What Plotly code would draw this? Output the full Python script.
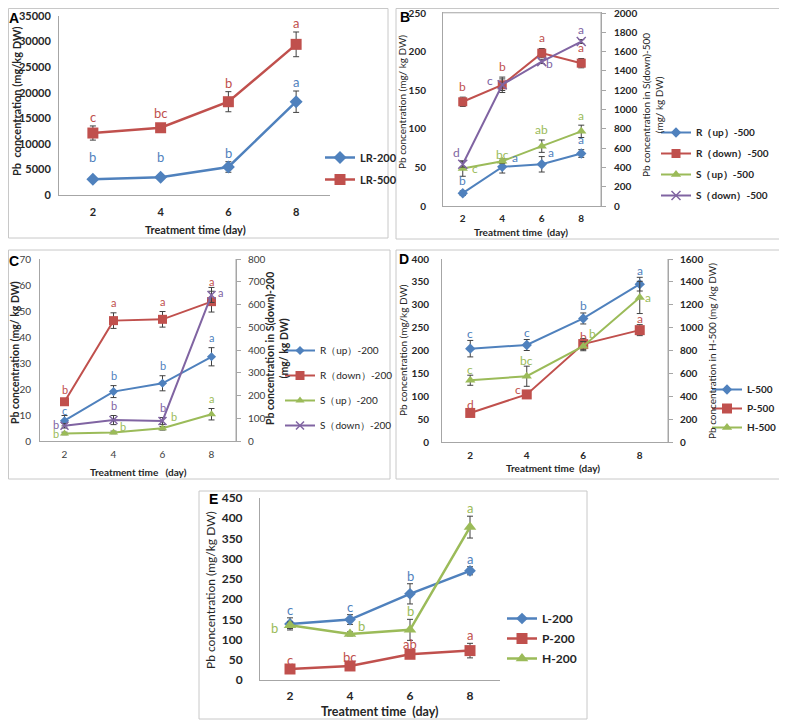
import plotly.graph_objects as go

W, H = 787, 722
OFF = 8            # the page body adds an 8 px margin; figure is sized to fit the window
FW, FH = W - OFF, H - OFF
FONT = "Lato"
days = [2, 4, 6, 8]

BLUE, RED, GREEN, PURPLE = "#4F81BD", "#C0504D", "#9BBB59", "#8064A2"
AXC = "#a6a6a6"
ERRC = "#404040"

# ---------------- data ----------------
# Panel A
A_LR200 = [3094, 3480, 5479, 18241]
A_LR200_err = [200, 200, 1030, 2095]
A_LR200_let = ["b", "b", "b", "a"]
A_LR500 = [12118, 13150, 18241, 29457]
A_LR500_err = [1385, 300, 1965, 2417]
A_LR500_let = ["c", "bc", "b", "a"]

# Panel B (S(down) on right axis)
B_Rup = [16.6, 50.7, 54, 68]
B_Rup_err = [3, 8, 10, 5]
B_Rup_let = ["b", "a", "a", "a"]
B_Rdown = [135, 157, 198, 185]
B_Rdown_err = [6, 10, 6, 6]
B_Rdown_let = ["b", "b", "a", "a"]
B_Sup = [48.5, 58, 77.5, 96.7]
B_Sup_err = [10, 3, 8, 8]
B_Sup_let = ["c", "bc", "ab", "a"]
B_Sdown = [433, 1257, 1496, 1704]
B_Sdown_err = [30, 60, 20, 20]
B_Sdown_let = ["d", "c", "b", "a"]

# Panel C (S(down) on right axis)
C_Rup = [7.8, 19, 22.2, 32.4]
C_Rup_err = [2, 2.3, 2.9, 3.5]
C_Rup_let = ["c", "b", "b", "a"]
C_Rdown = [15.1, 46.3, 46.8, 53.6]
C_Rdown_err = [1, 3, 3, 4]
C_Rdown_let = ["b", "a", "a", "a"]
C_Sup = [2.9, 3.3, 4.9, 10.3]
C_Sup_err = [0.5, 0.5, 0.7, 2.2]
C_Sup_let = ["b", "b", "b", "a"]
C_Sdown = [67, 92, 88, 642]
C_Sdown_err = [10, 20, 15, 33]
C_Sdown_let = ["b", "b", "b", "a"]

# Panel D (H-500 on right axis)
D_L = [204, 212, 270, 345]
D_L_err = [18, 12, 12, 15]
D_L_let = ["c", "c", "b", "a"]
D_P = [63.5, 104, 214, 244.5]
D_P_err = [5, 3, 12, 12]
D_P_let = ["d", "c", "b", "a"]
D_H = [540, 575, 838, 1264]
D_H_err = [44, 88, 40, 141]
D_H_let = ["c", "bc", "b", "a"]

# Panel E
E_L = [138.7, 149.5, 213, 270]
E_L_err = [15, 12, 25, 10]
E_L_let = ["c", "c", "b", "a"]
E_P = [27.2, 34.7, 63.6, 72.7]
E_P_err = [3, 3, 5, 18]
E_P_let = ["c", "bc", "ab", "a"]
E_H = [135.4, 114, 124, 378]
E_H_err = [8, 5, 26, 27]
E_H_let = ["b", "b", "b", "a"]


def px_x(p):
    return (p - OFF) / FW


def px_y(p):
    return 1 - (p - OFF) / FH


fig = go.Figure()
annotations = []
shapes = []


def add_series(name, vals, errs, letters, color, symbol, msize, lw, xa, ya, legend,
               lsize=12, shift=10, overrides=None, mline=None):
    marker = dict(symbol=symbol, size=msize, color=color)
    if mline:
        marker["line"] = dict(color=color, width=mline)
    fig.add_trace(go.Scatter(
        x=days, y=vals, name=name, mode="lines+markers",
        line=dict(color=color, width=lw), marker=marker,
        error_y=dict(type="data", array=errs, color=ERRC, thickness=1, width=3),
        xaxis=xa, yaxis=ya, legend=legend, legendgroup=name,
    ))
    overrides = overrides or {}
    for i, (d, v, e, t) in enumerate(zip(days, vals, errs, letters)):
        if i in overrides:
            dx, dy = overrides[i]
            yy = v
        else:
            dx, dy = 0, shift
            yy = v + e
        annotations.append(dict(
            x=d, y=yy, xref=xa, yref=ya, text=t, showarrow=False,
            xshift=dx, yshift=dy, font=dict(family=FONT, size=lsize, color=color)))


# ---------------- Panel A ----------------
add_series("LR-200", A_LR200, A_LR200_err, A_LR200_let, BLUE, "diamond", 10, 2.5, "x", "y", "legend",
           lsize=13, shift=9, overrides={0: (0, 22), 1: (0, 20)})
add_series("LR-500", A_LR500, A_LR500_err, A_LR500_let, RED, "square", 11, 2.5, "x", "y", "legend",
           lsize=13, shift=9, overrides={1: (0, 15)})

# ---------------- Panel B ----------------
add_series("R（up）-500", B_Rup, B_Rup_err, B_Rup_let, BLUE, "diamond", 8, 2, "x2", "y2", "legend2",
           overrides={1: (13, 9), 2: (9, 12)})
add_series("R（down）-500", B_Rdown, B_Rdown_err, B_Rdown_let, RED, "square", 9, 2, "x2", "y2", "legend2",
           shift=11)
add_series("S（up）-500", B_Sup, B_Sup_err, B_Sup_let, GREEN, "triangle-up", 9, 2, "x2", "y2", "legend2",
           overrides={0: (12, 0), 1: (0, 7)})
add_series("S（down）-500", B_Sdown, B_Sdown_err, B_Sdown_let, PURPLE, "x-thin", 9, 2, "x2", "y3", "legend2",
           overrides={0: (-6, 12), 1: (-12, 4), 2: (8, -2)}, mline=1.5)

# ---------------- Panel C ----------------
add_series("R（up）-200", C_Rup, C_Rup_err, C_Rup_let, BLUE, "diamond", 7, 2, "x3", "y4", "legend3",
           lsize=11, overrides={0: (0, 10)})
add_series("R（down）-200", C_Rdown, C_Rdown_err, C_Rdown_let, RED, "square", 9, 2, "x3", "y4", "legend3",
           lsize=11)
add_series("S（up）-200", C_Sup, C_Sup_err, C_Sup_let, GREEN, "triangle-up", 8, 2, "x3", "y4", "legend3",
           lsize=11, overrides={0: (-9, 0), 1: (9, 6), 2: (11, 12)})
add_series("S（down）-200", C_Sdown, C_Sdown_err, C_Sdown_let, PURPLE, "x-thin", 8, 2, "x3", "y5", "legend3",
           lsize=11, overrides={0: (-9, 1), 3: (9, 2)}, mline=1.5)

# ---------------- Panel D ----------------
add_series("L-500", D_L, D_L_err, D_L_let, BLUE, "diamond", 8, 2, "x4", "y6", "legend4", shift=7)
add_series("P-500", D_P, D_P_err, D_P_let, RED, "square", 10, 2, "x4", "y6", "legend4", shift=6,
           overrides={1: (-9, 5), 2: (0, 8)})
add_series("H-500", D_H, D_H_err, D_H_let, GREEN, "triangle-up", 9, 2, "x4", "y7", "legend4", shift=6,
           overrides={2: (9, 13), 3: (8, 0)})

# ---------------- Panel E ----------------
add_series("L-200", E_L, E_L_err, E_L_let, BLUE, "diamond", 9, 2.5, "x5", "y8", "legend5", lsize=13, shift=8)
add_series("P-200", E_P, E_P_err, E_P_let, RED, "square", 11, 2.5, "x5", "y8", "legend5", lsize=13, shift=8)
add_series("H-200", E_H, E_H_err, E_H_let, GREEN, "triangle-up", 11, 2.5, "x5", "y8", "legend5", lsize=13,
           shift=8, overrides={0: (-16, -3), 1: (11, 8)})


# ---------------- axes ----------------
def xaxis(dom, anchor, size, bold, standoff, color="#262626", mirror=False):
    return dict(domain=[px_x(dom[0]), px_x(dom[1])], anchor=anchor, range=[1, 9],
                tickvals=days, showgrid=False, zeroline=False, showline=True,
                linecolor=AXC, linewidth=1, mirror=mirror, ticks="",
                ticklabelstandoff=standoff, ticklabeloverflow="allow",
                tickfont=dict(family=FONT, size=size, color=color,
                              weight="bold" if bold else "normal"))


def yaxis(dom, anchor, rng, dtick, size, bold, standoff, side="left", overlay=None,
          ticks="", color="#262626", showline=True, mirror=False):
    d = dict(anchor=anchor, range=rng, dtick=dtick, tick0=0, tickformat="d", showgrid=False,
             zeroline=False, showline=showline, linecolor=AXC, linewidth=1, side=side,
             ticks=ticks, ticklen=4, tickcolor=AXC, ticklabelstandoff=standoff, mirror=mirror,
             ticklabeloverflow="allow",
             tickfont=dict(family=FONT, size=size, color=color,
                           weight="bold" if bold else "normal"))
    if overlay:
        d["overlaying"] = overlay
    else:
        d["domain"] = [px_y(dom[1]), px_y(dom[0])]
    return d


B_TOP = 13
layout = dict(
    width=FW, height=FH, autosize=False, margin=dict(l=0, r=0, t=0, b=0, pad=0, autoexpand=False),
    paper_bgcolor="white", plot_bgcolor="rgba(0,0,0,0)",
    font=dict(family=FONT, color="#262626"),
    xaxis=xaxis((59, 330), "y", 11, True, 7),
    yaxis=yaxis((16, 195), "x", [0, 35000], 5000, 11, True, 5),
    xaxis2=xaxis((443, 601), "y2", 10, True, 3, mirror=True),
    yaxis2=yaxis((B_TOP, 206), "x2", [0, 250], 50, 10, True, 14, mirror=False),
    yaxis3=yaxis(None, "x2", [0, 2000], 200, 10, True, 6, side="right", overlay="y2", ticks="outside"),
    xaxis3=xaxis((40, 236), "y4", 10, False, 4, color="#404040"),
    yaxis4=yaxis((259, 441), "x3", [0, 70], 10, 10, False, 6, color="#404040"),
    yaxis5=yaxis(None, "x3", [0, 800], 100, 10, False, 5, side="right", overlay="y4",
                 ticks="outside", color="#404040"),
    xaxis4=xaxis((442, 668), "y6", 10, True, 4),
    yaxis6=yaxis((259, 442), "x4", [0, 400], 50, 10, True, 10),
    yaxis7=yaxis(None, "x4", [0, 1600], 200, 10, True, 5, side="right", overlay="y6", ticks="outside"),
    xaxis5=xaxis((260, 500), "y8", 12, True, 5),
    yaxis8=yaxis((498, 680), "x5", [0, 450], 50, 12, True, 14),
)


def legend(x, y, size, bold, gap):
    return dict(x=px_x(x), y=px_y(y), xanchor="left", yanchor="top", bgcolor="rgba(0,0,0,0)",
                font=dict(family=FONT, size=size, color="#262626", weight="bold" if bold else "normal"),
                tracegroupgap=gap, traceorder="grouped", itemwidth=30, borderwidth=0)


layout["legend"] = legend(320, 143, 11, True, 3)
layout["legend2"] = legend(656, 118, 10, True, 2)
layout["legend3"] = legend(280, 336, 10, False, 6)
layout["legend4"] = legend(707, 375, 10, True, 0)
layout["legend5"] = legend(502, 604, 12, True, 1)

# top border of panel B plot area
shapes.append(dict(type="line", xref="paper", yref="paper", x0=px_x(443), x1=px_x(601),
                   y0=px_y(B_TOP), y1=px_y(B_TOP), line=dict(color="#d0d0d0", width=1)))
# right axis lines
shapes.append(dict(type="line", xref="paper", yref="paper", x0=px_x(601), x1=px_x(601),
                   y0=px_y(B_TOP), y1=px_y(206), line=dict(color=AXC, width=1)))
shapes.append(dict(type="line", xref="paper", yref="paper", x0=px_x(236), x1=px_x(236),
                   y0=px_y(259), y1=px_y(441), line=dict(color=AXC, width=1)))
shapes.append(dict(type="line", xref="paper", yref="paper", x0=px_x(668), x1=px_x(668),
                   y0=px_y(259), y1=px_y(442), line=dict(color=AXC, width=1)))

# panel frames (clamped to the drawable area)
for (x0, y0, x1, y1) in [(2, 2, 388, 238), (396, 2, 785, 239), (2, 250, 390, 479),
                         (396, 250, 785, 479), (199, 491, 587, 719)]:
    x0 = max(x0, OFF + 0.5)
    y0 = max(y0, OFF + 0.5)
    shapes.append(dict(type="rect", xref="paper", yref="paper", x0=px_x(x0), x1=px_x(x1),
                       y0=px_y(y1), y1=px_y(y0), line=dict(color="#c8c8c8", width=1),
                       fillcolor="rgba(0,0,0,0)", layer="below"))


def text(x, y, s, size, bold=False, angle=0, color="#262626", family=FONT):
    annotations.append(dict(x=px_x(x), y=px_y(y), xref="paper", yref="paper", text=s,
                            showarrow=False, textangle=angle, xanchor="center", yanchor="middle",
                            font=dict(family=family, size=size, color=color,
                                      weight="bold" if bold else "normal")))


# panel letters
text(14, 18, "A", 14, True, family="Liberation Sans", color="black")
text(405, 17, "B", 14, True, family="Liberation Sans", color="black")
text(14, 261, "C", 14, True, family="Liberation Sans", color="black")
text(404, 259, "D", 14, True, family="Liberation Sans", color="black")
text(213, 499, "E", 14, True, family="Liberation Sans", color="black")

# axis titles
text(17, 102, "Pb  concentration (mg/kg DW)", 11, True, -90)
text(195, 229, "Treatment time (day)", 11, True)
text(402, 102, "Pb concentration (mg/ kg DW)", 10, False, -90)
text(653, 105, "Pb concentration in S(down)-500<br>(mg/ kg DW)", 10, False, -90)
text(521, 232, "Treatment time  (day)", 10, True)
text(15, 353, "Pb concentration (mg/ kg DW)", 10.5, True, -90)
text(277, 349, "Pb concentration in S(down)-200<br>(mg/ kg DW)", 10.5, True, -90)
text(138, 472, "Treatment time   (day)", 10, True)
text(403, 350, "Pb concentration (mg/kg DW)", 10, False, -90)
text(712, 351, "Pb concentration in H-500 (mg /kg DW)", 10, False, -90)
text(553, 468, "Treatment time  (day)", 10, True)
text(210, 590, "Pb concentration (mg/kg DW)", 12, False, -90)
text(379, 711, "Treatment time  (day)", 12.5, True)

layout["annotations"] = annotations
layout["shapes"] = shapes
fig.update_layout(**layout)
fig.write_html("out.html")
